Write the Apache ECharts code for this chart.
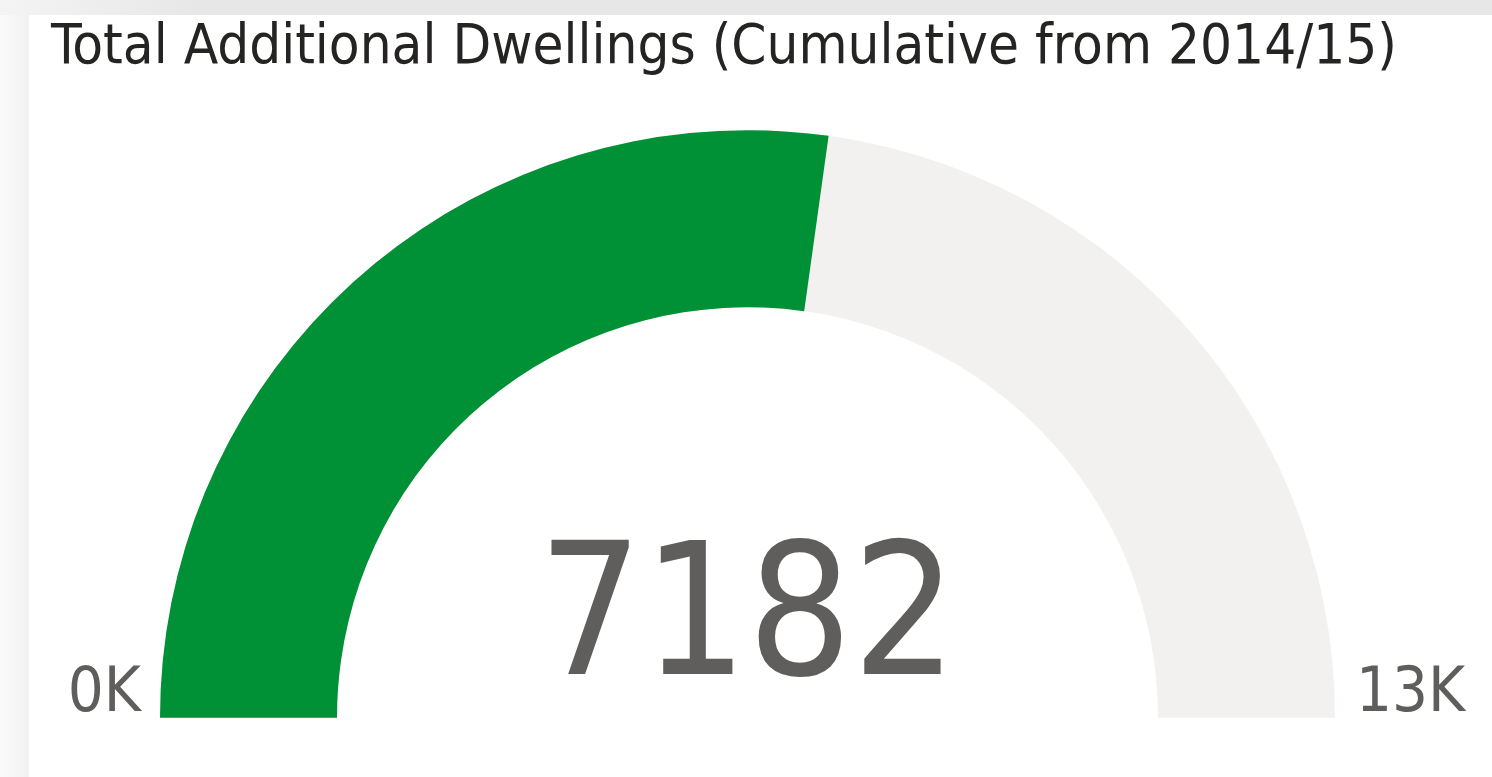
<!DOCTYPE html>
<html lang="en">
<head>
    <meta charset="UTF-8">
    <title>Total Additional Dwellings</title>
    <script src="https://cdn.jsdelivr.net/npm/echarts@6/dist/echarts.min.js"></script>
    <style>
        html, body { margin: 0; padding: 0; width: 1492px; height: 777px; overflow: hidden; }
        body {
            background: linear-gradient(to right, #fbfbfb 0px, #f1f1f1 29px, #f1f1f1 100%);
        }
        #topband {
            position: absolute; left: 0; top: 0; width: 1492px; height: 15px;
            background: linear-gradient(to right, #f4f4f4 0px, #e7e7e7 200px, #e7e7e7 100%);
        }
        #main {
            position: absolute; left: 29px; top: 15px; width: 1463px; height: 762px;
            background-color: #ffffff;
        }
    </style>
</head>
<body>
<div id="topband"></div>
<div id="main"></div>

<script type="text/javascript">

    var titleText = 'Total Additional Dwellings (Cumulative from 2014/15)'
    var gaugeMin = 0
    var gaugeMax = 13200
    var dwellings = [7182]
    var endLabels = ['0K', '13K']

    var cx = 718.5
    var cy = 702.7
    var font = '"DejaVu Sans Condensed", "Liberation Sans Narrow", sans-serif'

    var myChart = echarts.init(document.getElementById('main'))

    var option = {
        backgroundColor: '#ffffff',
        animation: false,
        graphic: [
            {
                type: 'text', x: 22, y: 33,
                style: { text: titleText, fill: '#252423', font: '56px ' + font, verticalAlign: 'middle' }
            },
            {
                type: 'text', x: 112, y: 680,
                style: { text: endLabels[0], fill: '#605e5c', font: '63px ' + font, align: 'right', verticalAlign: 'middle' }
            },
            {
                type: 'text', x: 1327, y: 680,
                style: { text: endLabels[1], fill: '#605e5c', font: '63px ' + font, align: 'left', verticalAlign: 'middle' }
            }
        ],
        series: [{
            type: 'gauge',
            center: [cx, cy],
            radius: 587.5,
            startAngle: 180,
            endAngle: 0,
            min: gaugeMin,
            max: gaugeMax,
            progress: {
                show: true,
                width: 177,
                roundCap: false,
                itemStyle: { color: '#009035' }
            },
            axisLine: {
                roundCap: false,
                lineStyle: { width: 177, color: [[1, '#f2f1ef']] }
            },
            pointer: { show: false },
            anchor: { show: false },
            axisTick: { show: false },
            splitLine: { show: false },
            axisLabel: { show: false },
            title: { show: false },
            detail: {
                offsetCenter: [0, -91],
                fontSize: 183,
                fontWeight: 200,
                fontFamily: font,
                color: '#605e5c',
                formatter: '{value}'
            },
            data: [{ value: dwellings[0] }]
        }]
    }

    myChart.setOption(option)

</script>
</body>
</html>
